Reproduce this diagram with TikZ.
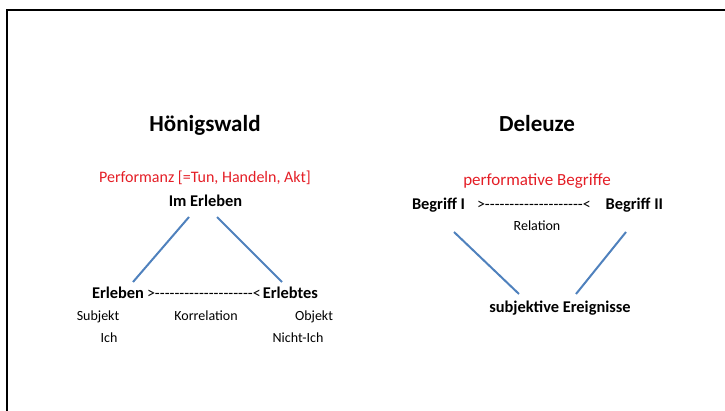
\documentclass[tikz,border=0pt]{standalone}
\usepackage{fontspec}
\setmainfont{Carlito}
\definecolor{lineblue}{RGB}{79,129,189}
\definecolor{redtxt}{RGB}{228,30,38}
\newcommand\dsh{-\kern0pt}
\newcommand\dashrow{>\dsh\dsh\dsh\dsh\dsh\dsh\dsh\dsh\dsh\dsh\dsh\dsh\dsh\dsh\dsh\dsh\dsh\dsh\dsh\dsh<}
\begin{document}
\begin{tikzpicture}[x=1pt,y=-1pt,
  every node/.style={inner sep=0pt, outer sep=0pt},
  titletxt/.style={font=\fontsize{23}{27}\selectfont\bfseries, anchor=base},
  redlbl/.style={font=\fontsize{16}{19}\selectfont, text=redtxt, anchor=base},
  boldlbl/.style={font=\fontsize{16.4}{19}\selectfont\bfseries, anchor=base},
  smalllbl/.style={font=\fontsize{14}{17}\selectfont, anchor=base},
  dashlbl/.style={font=\fontsize{16}{19}\selectfont, anchor=base west},
  link/.style={draw=lineblue, line width=2pt}]
\useasboundingbox (0,0) rectangle (725,411);
\draw[line width=1.3pt] (7,411) -- (7,10) -- (725,10);

% Hönigswald
\node[titletxt] (hoen) at (205,132) {Hönigswald};
\node[redlbl] (perf) at (205,183) {Performanz [=Tun, Handeln, Akt]};
\node[boldlbl] (imerl) at (205.5,207) {Im Erleben};
\node[boldlbl, anchor=base west] (erleben) at (92,299) {Erleben};
\node[dashlbl] (korrdash) at (147,299) {\dashrow};
\node[boldlbl, anchor=base east] (erlebtes) at (318,299) {Erlebtes};
\node[smalllbl] (subj) at (98,321) {Subjekt};
\node[smalllbl] (korr) at (206,321) {Korrelation};
\node[smalllbl] (obj) at (314,321) {Objekt};
\node[smalllbl] (ich) at (109,342) {Ich};
\node[smalllbl] (nich) at (298,342) {Nicht-Ich};
\coordinate (a1) at (189,217);
\coordinate (a2) at (133,282);
\coordinate (b1) at (217,217);
\coordinate (b2) at (282,282);
\draw[link] (a1) -- (a2);
\draw[link] (b1) -- (b2);

% Deleuze
\node[titletxt] (del) at (537,132) {Deleuze};
\node[redlbl, font=\fontsize{17}{20}\selectfont] (pbeg) at (537,186) {performative Begriffe};
\node[boldlbl, anchor=base west] (beg1) at (412,210) {Begriff I};
\node[dashlbl] (reldash) at (477,210) {\dashrow};
\node[boldlbl, anchor=base east] (beg2) at (663,210) {Begriff II};
\node[smalllbl] (rel) at (537,231) {Relation};
\node[boldlbl] (subev) at (560,313) {subjektive Ereignisse};
\coordinate (c1) at (454,232);
\coordinate (c2) at (519,294);
\coordinate (d1) at (626,232);
\coordinate (d2) at (576,294);
\draw[link] (c1) -- (c2);
\draw[link] (d1) -- (d2);
\end{tikzpicture}
\end{document}
